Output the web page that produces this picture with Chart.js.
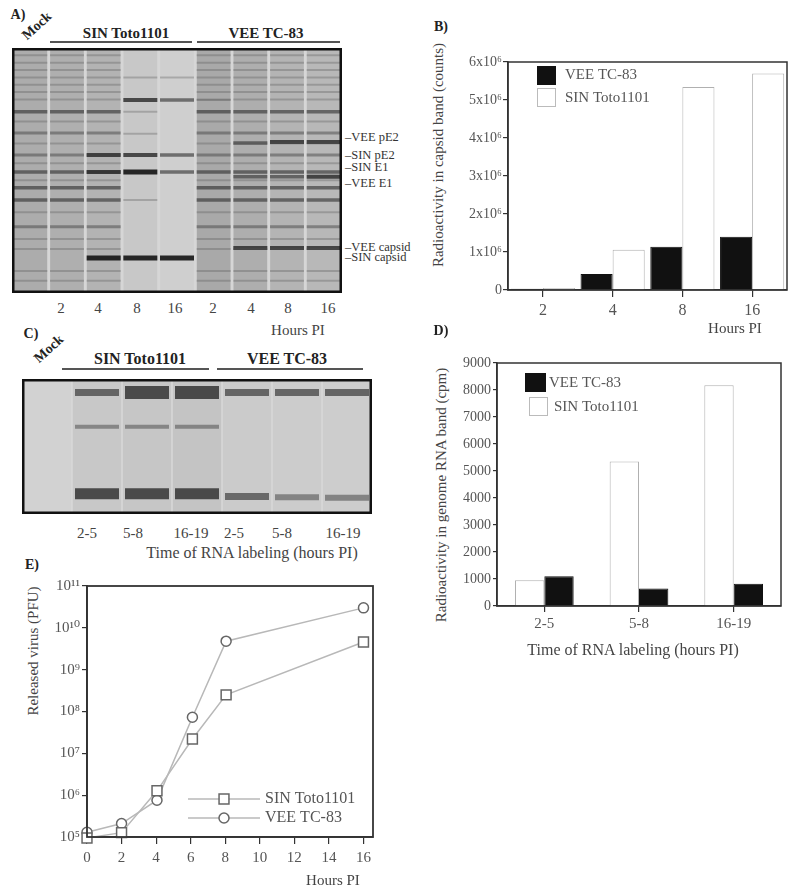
<!DOCTYPE html>
<html>
<head>
<meta charset="utf-8">
<script src="https://cdn.jsdelivr.net/npm/chart.js@4.4.1/dist/chart.umd.min.js"></script>
<style>
    body { margin: 0; background: #fff; }
    #page { position: relative; width: 800px; height: 893px; overflow: hidden;
            font-family: "Liberation Serif", "DejaVu Serif", serif; color: #444; }
    .box { position: absolute; }
    .t { position: absolute; white-space: nowrap; font-size: 15px; line-height: 1;
         transform: translate(-50%, -50%); }
    .b { font-weight: bold; color: #222; }
    .l { transform: translate(0, -50%); font-size: 12.5px; color: #333; }
    .rot { transform: translate(-50%, -50%) rotate(-90deg); }
    .diag { transform: translate(-50%, -50%) rotate(-42deg); font-size: 14px; }
    .hr { position: absolute; height: 2px; background: #555; }
</style>
</head>
<body>
<div id="page">
    <!-- panel A : protein gel -->
    <div class="t b" style="left:18px;top:15px;font-size:14px">A)</div>
    <div class="t b diag" style="left:37px;top:26px">Mock</div>
    <div class="t b" style="left:126px;top:33px">SIN Toto1101</div>
    <div class="t b" style="left:266px;top:33px">VEE TC-83</div>
    <div class="hr" style="left:50px;top:41px;width:142px"></div>
    <div class="hr" style="left:197px;top:41px;width:143px"></div>
    <div class="box" style="left:12px;top:48px;width:330px;height:245px"><canvas id="gelA"></canvas></div>
    <div id="laneLabelsA"></div>
    <div class="t" style="left:298px;top:330px">Hours PI</div>
    <div class="t l" style="left:345px;top:137px">&#8211;VEE pE2</div>
    <div class="t l" style="left:345px;top:155px">&#8211;SIN pE2</div>
    <div class="t l" style="left:345px;top:167px">&#8211;SIN E1</div>
    <div class="t l" style="left:345px;top:183px">&#8211;VEE E1</div>
    <div class="t l" style="left:345px;top:247px">&#8211;VEE capsid</div>
    <div class="t l" style="left:345px;top:257px">&#8211;SIN capsid</div>

    <!-- panel B -->
    <div class="t b" style="left:441px;top:27px;font-size:14px">B)</div>
    <div class="t rot" style="left:438px;top:155px">Radioactivity in capsid band (counts)</div>
    <div class="box" style="left:420px;top:0;width:380px;height:340px"><canvas id="chartB"></canvas></div>
    <div class="t" style="left:735px;top:328px">Hours PI</div>

    <!-- panel C : RNA gel -->
    <div class="t b" style="left:31px;top:334px;font-size:14px">C)</div>
    <div class="t b diag" style="left:49px;top:349px">Mock</div>
    <div class="t b" style="left:140px;top:359px;font-size:16px">SIN Toto1101</div>
    <div class="t b" style="left:287px;top:359px;font-size:16px">VEE TC-83</div>
    <div class="hr" style="left:62px;top:368px;width:147px"></div>
    <div class="hr" style="left:217px;top:368px;width:146px"></div>
    <div class="box" style="left:22px;top:379px;width:350px;height:135px"><canvas id="gelC"></canvas></div>
    <div id="laneLabelsC"></div>
    <div class="t" style="left:252px;top:553px;font-size:16px">Time of RNA labeling (hours PI)</div>

    <!-- panel D -->
    <div class="t b" style="left:441px;top:331px;font-size:14px">D)</div>
    <div class="t rot" style="left:441px;top:495px">Radioactivity in genome RNA band (cpm)</div>
    <div class="box" style="left:420px;top:330px;width:380px;height:320px"><canvas id="chartD"></canvas></div>
    <div class="t" style="left:633px;top:650px;font-size:16px">Time of RNA labeling (hours PI)</div>

    <!-- panel E -->
    <div class="t b" style="left:32px;top:565px;font-size:14px">E)</div>
    <div class="t rot" style="left:33px;top:651px">Released virus (PFU)</div>
    <div class="box" style="left:0;top:570px;width:400px;height:323px"><canvas id="chartE"></canvas></div>
    <div class="t" style="left:333px;top:880px">Hours PI</div>
</div>

<script>
    // ---------- data ----------
    // B) capsid band radioactivity
    var hoursB = ['2', '4', '8', '16'];
    var capsidVee = [30000, 420000, 1140000, 1400000];
    var capsidSin = [50000, 1060000, 5340000, 5700000];
    var yTickLabelsB = ['0', '1x10\u2076', '2x10\u2076', '3x10\u2076', '4x10\u2076', '5x10\u2076', '6x10\u2076'];

    // D) genome RNA band radioactivity
    var labelingD = ['2-5', '5-8', '16-19'];
    var rnaSin = [950, 5350, 8180];
    var rnaVee = [1100, 650, 820];

    // E) released virus
    var hoursE = [0, 2, 4.05, 6.1, 8.05, 16];
    var virusSin = [95000, 127000, 1270000, 22000000, 250000000, 4600000000];
    var virusVee = [130000, 210000, 760000, 73000000, 4800000000, 30000000000];
    var xTicksE = [0, 2, 4, 6, 8, 10, 12, 14, 16];
    var yTicksE = [1e5, 1e6, 1e7, 1e8, 1e9, 1e10, 1e11];
    var yTickLabelsE = ['10\u2075', '10\u2076', '10\u2077', '10\u2078', '10\u2079', '10\u00b9\u2070', '10\u00b9\u00b9'];

    // A) protein gel: lanes, host bands and viral bands (position = % of gel height)
    var lanesA = ['Mock', '2', '4', '8', '16', '2', '4', '8', '16'];
    var laneShadeA = ['#acacac', '#afafaf', '#b3b3b3', '#c8c8c8', '#cfcfcf', '#a9a9a9', '#aeaeae', '#b4b4b4', '#b8b8b8'];
    var hostLanesA = [1, 2, 3, 6, 7, 8, 9];
    var hostFaintA = [3, 6, 9, 12, 15, 18, 21, 30, 39, 47, 54, 67, 78, 82, 91, 95];
    var hostMediumA = [34.7, 43.7, 73];
    var hostStrongA = [26, 50.6, 57, 62];
    var viralBandsA = [
        [3, 43.7, 'dark'], [3, 50.6, 'dark'], [3, 85.7, 'heavy'],
        [4, 12, 'faint'], [4, 21.2, 'dark'], [4, 26, 'faint'], [4, 35, 'faint'], [4, 43.7, 'dark'], [4, 50.6, 'heavy'], [4, 62, 'faint'], [4, 85.7, 'heavy'],
        [5, 12, 'faint'], [5, 21.2, 'strong'], [5, 43.7, 'strong'], [5, 50.6, 'strong'], [5, 85.7, 'heavy'],
        [6, 21.2, 'faint'],
        [7, 38.8, 'strong'], [7, 52.6, 'strong'], [7, 81.6, 'dark'],
        [8, 38.4, 'dark'], [8, 52.6, 'strong'], [8, 81.6, 'dark'],
        [9, 38.4, 'dark'], [9, 52.6, 'dark'], [9, 81.6, 'dark']
    ];
    var labelXA = [61, 98, 137, 175, 213, 251, 288, 328];

    // C) RNA gel
    var lanesC = ['Mock', '2-5', '5-8', '16-19', '2-5', '5-8', '16-19'];
    var laneShadeC = ['#d2d2d2', '#c8c8c8', '#c6c6c6', '#c4c4c4', '#cbcbcb', '#cccccc', '#cdcdcd'];
    var bandsC = [
        [2, 10, 'top'], [3, 10, 'topHeavy'], [4, 10, 'topHeavy'], [5, 10, 'top'], [6, 10, 'top'], [7, 10, 'top'],
        [2, 35.3, 'mid'], [3, 35.3, 'mid'], [4, 35.3, 'mid'],
        [2, 85, 'bottomHeavy'], [3, 85, 'bottomHeavy'], [4, 85, 'bottomHeavy'],
        [5, 87, 'bottom'], [6, 87.5, 'bottomLight'], [7, 88, 'bottomLight']
    ];
    var labelXC = [87, 133, 191, 234, 282, 343];

    // ---------- helpers ----------
    var serif = '"Liberation Serif", "DejaVu Serif", serif';
    Chart.defaults.font.family = serif;
    Chart.defaults.color = '#555';
    Chart.defaults.animation = false;

    function addLaneLabels(id, xs, labels, y) {
        var el = document.getElementById(id);
        xs.forEach(function (x, i) {
            var d = document.createElement('div');
            d.className = 't';
            d.style.left = x + 'px';
            d.style.top = y + 'px';
            d.textContent = labels[i];
            el.appendChild(d);
        });
    }
    addLaneLabels('laneLabelsA', labelXA, lanesA.slice(1), 308);
    addLaneLabels('laneLabelsC', labelXC, lanesC.slice(1), 533);

    var framePlugin = {
        id: 'frame',
        beforeDatasetsDraw: function (chart, args, opts) {
            if (!opts.fill) return;
            var a = chart.chartArea, ctx = chart.ctx;
            ctx.save();
            ctx.fillStyle = opts.fill;
            ctx.fillRect(a.left, a.top, a.right - a.left, a.bottom - a.top);
            ctx.restore();
        },
        afterDraw: function (chart, args, opts) {
            var a = chart.chartArea, ctx = chart.ctx, w = opts.width || 1.5;
            ctx.save();
            ctx.strokeStyle = opts.color || '#333';
            ctx.lineWidth = w;
            var inset = opts.inset ? w / 2 : 0;
            ctx.strokeRect(a.left + inset, a.top + inset, a.right - a.left - 2 * inset, a.bottom - a.top - 2 * inset);
            ctx.restore();
        }
    };

    // legend items are drawn relative to the chart area
    var boxLegendPlugin = {
        id: 'boxLegend',
        afterDraw: function (chart, args, opts) {
            var a = chart.chartArea, ctx = chart.ctx;
            ctx.save();
            ctx.font = '15px ' + serif;
            ctx.textBaseline = 'middle';
            (opts.items || []).forEach(function (it) {
                ctx.fillStyle = it.fill;
                ctx.fillRect(a.left + it.x, a.top + it.y, it.w, it.h);
                if (it.stroke) {
                    ctx.strokeStyle = it.stroke;
                    ctx.lineWidth = 1;
                    ctx.strokeRect(a.left + it.x + 0.5, a.top + it.y + 0.5, it.w - 1, it.h - 1);
                }
                ctx.fillStyle = '#555';
                ctx.fillText(it.text, a.left + it.tx, a.top + it.ty);
            });
            ctx.restore();
        }
    };

    function gelChart(id, lanes, shades, bands, tones, bandHalfWidth, barPct, opts) {
        var datasets = [{
            type: 'bar',
            order: 1,
            data: lanes.map(function (l, i) { return { x: i + 1, y: [0, 100] }; }),
            backgroundColor: shades,
            borderWidth: 0,
            barPercentage: barPct,
            categoryPercentage: 1
        }];
        Object.keys(tones).forEach(function (tone) {
            var pts = bands.filter(function (b) { return b[2] === tone; })
                .map(function (b) { return { x: b[0], y: b[1] }; });
            datasets.push({
                type: 'scatter',
                order: 0,
                data: pts,
                pointStyle: 'line',
                pointRadius: bandHalfWidth,
                borderColor: tones[tone].color,
                borderWidth: tones[tone].width,
                clip: false
            });
        });
        return new Chart(document.getElementById(id), {
            type: 'scatter',
            data: { datasets: datasets },
            plugins: [framePlugin],
            options: {
                responsive: true,
                maintainAspectRatio: false,
                layout: { padding: 0, autoPadding: false },
                events: [],
                plugins: { legend: { display: false }, tooltip: { enabled: false }, frame: opts },
                scales: {
                    x: { type: 'linear', offset: false, min: 0.5, max: lanes.length + 0.5, display: false },
                    y: { type: 'linear', offset: false, min: 0, max: 100, reverse: true, display: false }
                }
            }
        });
    }

    // ---------- A) gel ----------
    var bandsA = viralBandsA.slice();
    hostLanesA.forEach(function (lane) {
        hostFaintA.forEach(function (p) { bandsA.push([lane, p, 'faint']); });
        hostMediumA.forEach(function (p) { bandsA.push([lane, p, 'medium']); });
        hostStrongA.forEach(function (p) { bandsA.push([lane, p, 'strong']); });
    });
    gelChart('gelA', lanesA, laneShadeA, bandsA, {
        faint: { color: 'rgba(80,80,80,0.3)', width: 2 },
        medium: { color: 'rgba(60,60,60,0.45)', width: 3 },
        strong: { color: 'rgba(45,45,45,0.6)', width: 3.5 },
        dark: { color: 'rgba(30,30,30,0.75)', width: 4 },
        heavy: { color: 'rgba(20,20,20,0.9)', width: 5 }
    }, 17, 0.92, { fill: '#d6d6d6', color: '#111', width: 2.5, inset: true });

    // ---------- C) gel ----------
    gelChart('gelC', lanesC, laneShadeC, bandsC, {
        top: { color: 'rgba(75,75,75,0.8)', width: 7 },
        topHeavy: { color: 'rgba(60,60,60,0.9)', width: 13 },
        mid: { color: 'rgba(90,90,90,0.6)', width: 4 },
        bottomHeavy: { color: 'rgba(60,60,60,0.9)', width: 11 },
        bottom: { color: 'rgba(80,80,80,0.8)', width: 7 },
        bottomLight: { color: 'rgba(100,100,100,0.7)', width: 6 }
    }, 22, 0.97, { fill: '#d8d8d8', color: '#111', width: 2.5, inset: true });

    // ---------- B) capsid bar chart ----------
    function fixedSize(w, h) {
        return function (scale) {
            if (w) scale.width = w;
            if (h) scale.height = h;
        };
    }
    var axisGrid = { drawOnChartArea: false, tickLength: 6, color: '#333', lineWidth: 1.2 };
    var axisBorder = { color: '#333', width: 1.5 };

    new Chart(document.getElementById('chartB'), {
        type: 'bar',
        data: {
            labels: hoursB,
            datasets: [
                { label: 'VEE TC-83', data: capsidVee, backgroundColor: '#111', borderColor: '#111', borderWidth: 1 },
                { label: 'SIN Toto1101', data: capsidSin, backgroundColor: '#fff', borderColor: '#b0b0b0', borderWidth: 1 }
            ]
        },
        plugins: [framePlugin, boxLegendPlugin],
        options: {
            responsive: true,
            maintainAspectRatio: false,
            layout: { padding: { top: 62, right: 13, left: 0, bottom: 0 } },
            categoryPercentage: 0.92,
            barPercentage: 1,
            plugins: {
                legend: { display: false }, tooltip: { enabled: false },
                frame: { color: '#333', width: 1.5 },
                boxLegend: { items: [
                    { fill: '#111', x: 29, y: 4, w: 19, h: 19, text: 'VEE TC-83', tx: 57, ty: 13 },
                    { fill: '#fff', stroke: '#bbb', x: 29, y: 26, w: 19, h: 19, text: 'SIN Toto1101', tx: 57, ty: 36 }
                ] }
            },
            scales: {
                x: {
                    afterFit: fixedSize(0, 50),
                    grid: Object.assign({ offset: false }, axisGrid, { tickLength: 7 }),
                    border: axisBorder,
                    ticks: { font: { size: 16 }, padding: 4, color: '#555' }
                },
                y: {
                    min: 0, max: 6000000,
                    afterFit: fixedSize(88, 0),
                    grid: Object.assign({}, axisGrid, { tickLength: 5 }),
                    border: axisBorder,
                    ticks: {
                        stepSize: 1000000, padding: 1, font: { size: 14 }, color: '#555',
                        callback: function (v) { return yTickLabelsB[Math.round(v / 1000000)]; }
                    }
                }
            }
        }
    });

    // ---------- D) genome RNA bar chart ----------
    new Chart(document.getElementById('chartD'), {
        type: 'bar',
        data: {
            labels: labelingD,
            datasets: [
                { label: 'SIN Toto1101', data: rnaSin, backgroundColor: '#fff', borderColor: '#b0b0b0', borderWidth: 1 },
                { label: 'VEE TC-83', data: rnaVee, backgroundColor: '#111', borderColor: '#111', borderWidth: 1 }
            ]
        },
        plugins: [framePlugin, boxLegendPlugin],
        options: {
            responsive: true,
            maintainAspectRatio: false,
            layout: { padding: { top: 33, right: 19, left: 0, bottom: 0 } },
            categoryPercentage: 0.62,
            barPercentage: 1,
            plugins: {
                legend: { display: false }, tooltip: { enabled: false },
                frame: { color: '#333', width: 1.5 },
                boxLegend: { items: [
                    { fill: '#111', x: 28, y: 10, w: 21, h: 19, text: 'VEE TC-83', tx: 52, ty: 20 },
                    { fill: '#fff', stroke: '#bbb', x: 32, y: 34, w: 19, h: 19, text: 'SIN Toto1101', tx: 57, ty: 44 }
                ] }
            },
            scales: {
                x: {
                    afterFit: fixedSize(0, 44),
                    grid: Object.assign({ offset: false }, axisGrid, { tickLength: 6 }),
                    border: axisBorder,
                    ticks: { font: { size: 15 }, padding: 3, color: '#555' }
                },
                y: {
                    min: 0, max: 9000,
                    afterFit: fixedSize(77, 0),
                    grid: Object.assign({}, axisGrid, { tickLength: 4 }),
                    border: axisBorder,
                    ticks: {
                        stepSize: 1000, padding: 2, font: { size: 14 }, color: '#555',
                        callback: function (v) { return String(v); }
                    }
                }
            }
        }
    });

    // ---------- E) released virus line chart ----------
    function points(xs, ys) {
        return xs.map(function (x, i) { return { x: x, y: ys[i] }; });
    }
    var lineStyle = {
        showLine: true, borderColor: '#b8b8b8', borderWidth: 1.5,
        pointBorderColor: '#666', pointBackgroundColor: '#fff', pointBorderWidth: 1.5, clip: false
    };
    var lineLegendPlugin = {
        id: 'lineLegend',
        afterDraw: function (chart, args, opts) {
            var a = chart.chartArea, ctx = chart.ctx;
            ctx.save();
            ctx.font = '16px ' + serif;
            ctx.textBaseline = 'middle';
            ctx.lineWidth = 1.5;
            opts.items.forEach(function (it) {
                var y = a.top + it.y;
                ctx.strokeStyle = '#b8b8b8';
                ctx.beginPath();
                ctx.moveTo(a.left + it.x0, y);
                ctx.lineTo(a.left + it.x1, y);
                ctx.stroke();
                ctx.fillStyle = '#fff';
                ctx.strokeStyle = '#666';
                ctx.beginPath();
                if (it.style === 'rect') {
                    var s = it.r * Math.SQRT1_2;
                    ctx.rect(a.left + it.mx - s, y - s, 2 * s, 2 * s);
                } else {
                    ctx.arc(a.left + it.mx, y, it.r, 0, Math.PI * 2);
                }
                ctx.fill();
                ctx.stroke();
                ctx.fillStyle = '#555';
                ctx.fillText(it.text, a.left + it.tx, y);
            });
            ctx.restore();
        }
    };

    new Chart(document.getElementById('chartE'), {
        type: 'scatter',
        data: {
            datasets: [
                Object.assign({ label: 'SIN Toto1101', data: points(hoursE, virusSin), pointStyle: 'rect', pointRadius: 7 }, lineStyle),
                Object.assign({ label: 'VEE TC-83', data: points(hoursE, virusVee), pointStyle: 'circle', pointRadius: 5 }, lineStyle)
            ]
        },
        plugins: [framePlugin, lineLegendPlugin],
        options: {
            responsive: true,
            maintainAspectRatio: false,
            layout: { padding: { top: 16, right: 27, left: 0, bottom: 0 }, autoPadding: false },
            plugins: {
                legend: { display: false }, tooltip: { enabled: false },
                frame: { color: '#333', width: 1.8 },
                lineLegend: { items: [
                    { style: 'rect', r: 7, x0: 101, x1: 173, mx: 137, y: 213, text: 'SIN Toto1101', tx: 178 },
                    { style: 'circle', r: 5, x0: 101, x1: 173, mx: 137, y: 232, text: 'VEE TC-83', tx: 178 }
                ] }
            },
            scales: {
                x: {
                    type: 'linear', min: 0, max: 16.55,
                    afterFit: fixedSize(0, 56),
                    afterBuildTicks: function (s) { s.ticks = xTicksE.map(function (v) { return { value: v }; }); },
                    grid: Object.assign({}, axisGrid, { tickLength: 7 }),
                    border: { color: '#333', width: 1.8 },
                    ticks: { font: { size: 15 }, padding: 5, color: '#555' }
                },
                y: {
                    type: 'logarithmic', min: 1e5, max: 1e11,
                    afterFit: fixedSize(87, 0),
                    afterBuildTicks: function (s) { s.ticks = yTicksE.map(function (v) { return { value: v }; }); },
                    grid: Object.assign({}, axisGrid, { tickLength: 5 }),
                    border: { color: '#333', width: 1.8 },
                    ticks: {
                        font: { size: 15 }, padding: 2, color: '#555',
                        callback: function (v) { return yTickLabelsE[yTicksE.indexOf(v)]; }
                    }
                }
            }
        }
    });
</script>
</body>
</html>
